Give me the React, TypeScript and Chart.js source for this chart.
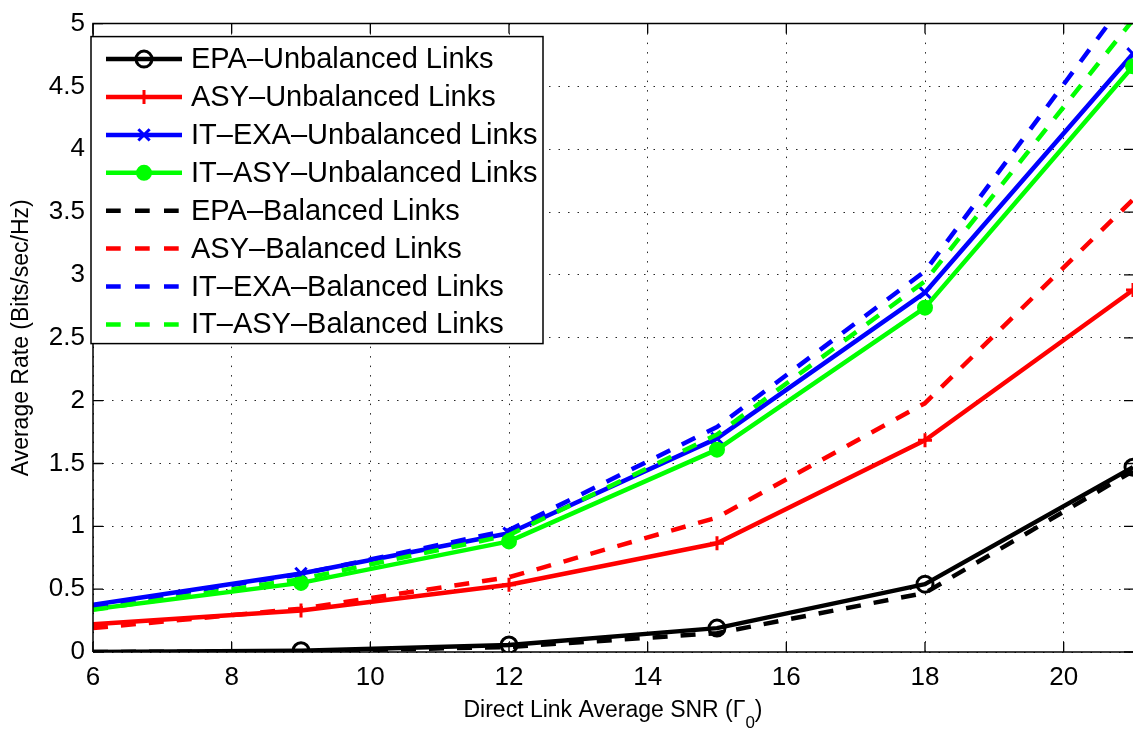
import React, { useEffect, useRef } from "react";
import { Chart, registerables } from "chart.js";

Chart.register(...registerables);

// ---------- data ----------
const xValues = [6, 9, 12, 15, 18, 21];

const epaUnbalanced = [0.0, 0.01, 0.055, 0.19, 0.54, 1.47];
const asyUnbalanced = [0.22, 0.33, 0.535, 0.865, 1.685, 2.88];
const itExaUnbalanced = [0.375, 0.625, 0.945, 1.7, 2.86, 4.76];
const itAsyUnbalanced = [0.34, 0.55, 0.88, 1.61, 2.74, 4.66];
const epaBalanced = [0.0, 0.005, 0.04, 0.15, 0.47, 1.44];
const asyBalanced = [0.19, 0.345, 0.595, 1.07, 1.98, 3.6];
const itExaBalanced = [0.36, 0.62, 0.97, 1.79, 3.03, 5.26];
const itAsyBalanced = [0.335, 0.58, 0.93, 1.73, 2.95, 5.03];

const seriesLabels = [
  "EPA\u2013Unbalanced Links",
  "ASY\u2013Unbalanced Links",
  "IT\u2013EXA\u2013Unbalanced Links",
  "IT\u2013ASY\u2013Unbalanced Links",
  "EPA\u2013Balanced Links",
  "ASY\u2013Balanced Links",
  "IT\u2013EXA\u2013Balanced Links",
  "IT\u2013ASY\u2013Balanced Links",
];
const seriesValues = [
  epaUnbalanced,
  asyUnbalanced,
  itExaUnbalanced,
  itAsyUnbalanced,
  epaBalanced,
  asyBalanced,
  itExaBalanced,
  itAsyBalanced,
];

const xTicks = [6, 8, 10, 12, 14, 16, 18, 20];
const yTicks = [0, 0.5, 1, 1.5, 2, 2.5, 3, 3.5, 4, 4.5, 5];

const xTitleMain = "Direct Link Average SNR (\u0393";
const xTitleSub = "0";
const xTitleEnd = ")";
const yTitle = "Average Rate (Bits/sec/Hz)";

// ---------- styles ----------
const FONT = '"Liberation Sans", Arial, Helvetica, sans-serif';
const seriesColors = ["#000000", "#ff0000", "#0000ff", "#00ff00"];
const markerStyles = ["circle", "cross", "crossRot", "dot"];
const markerRadius = [8, 7, 8, 6.5];
const LINE_W = 4.5;
const DASH = [15, 13];

function drawMarker(ctx: CanvasRenderingContext2D, style: string, x: number, y: number, r: number, color: string) {
  ctx.save();
  ctx.setLineDash([]);
  ctx.strokeStyle = color;
  ctx.fillStyle = color;
  ctx.lineWidth = 3;
  ctx.beginPath();
  if (style === "circle") {
    ctx.arc(x, y, r, 0, Math.PI * 2);
    ctx.stroke();
  } else if (style === "dot") {
    ctx.arc(x, y, r, 0, Math.PI * 2);
    ctx.fill();
    ctx.stroke();
  } else if (style === "cross") {
    ctx.moveTo(x - r, y);
    ctx.lineTo(x + r, y);
    ctx.moveTo(x, y - r);
    ctx.lineTo(x, y + r);
    ctx.stroke();
  } else if (style === "crossRot") {
    const d = r * Math.SQRT1_2;
    ctx.moveTo(x - d, y - d);
    ctx.lineTo(x + d, y + d);
    ctx.moveTo(x + d, y - d);
    ctx.lineTo(x - d, y + d);
    ctx.stroke();
  }
  ctx.restore();
}

const matlabPlugin = {
  id: "matlabDecor",
  afterDatasetsDraw(chart: any) {
    const { ctx, chartArea: a, scales } = chart;
    const xs = scales.x;
    const ys = scales.y;
    ctx.save();
    ctx.setLineDash([]);
    ctx.strokeStyle = "#000";
    ctx.lineWidth = 1.5;
    ctx.beginPath();
    ctx.moveTo(a.left, a.bottom);
    ctx.lineTo(a.left, a.top);
    ctx.lineTo(a.right + 2, a.top);
    ctx.moveTo(a.left, a.bottom);
    ctx.lineTo(a.right + 2, a.bottom);
    ctx.stroke();
    const L = 10;
    ctx.lineWidth = 1.3;
    ctx.beginPath();
    xTicks.forEach((v) => {
      const px = xs.getPixelForValue(v);
      ctx.moveTo(px, a.bottom);
      ctx.lineTo(px, a.bottom - L);
      ctx.moveTo(px, a.top);
      ctx.lineTo(px, a.top + L);
    });
    yTicks.forEach((v) => {
      const py = ys.getPixelForValue(v);
      ctx.moveTo(a.left, py);
      ctx.lineTo(a.left + L, py);
      ctx.moveTo(a.right + 1, py);
      ctx.lineTo(a.right + 1 - L, py);
    });
    ctx.stroke();
    ctx.restore();
  },
  afterDraw(chart: any) {
    const { ctx, chartArea: a } = chart;
    // legend
    ctx.save();
    const bx = a.left - 2;
    const by = a.top + 13;
    const bw = 452;
    const bh = 307;
    ctx.fillStyle = "#ffffff";
    ctx.fillRect(bx, by, bw, bh);
    ctx.setLineDash([]);
    ctx.strokeStyle = "#000";
    ctx.lineWidth = 1.5;
    ctx.strokeRect(bx, by, bw, bh);
    const rowStep = 37.9;
    const row0 = by + 22.5;
    chart.data.datasets.forEach((ds: any, i: number) => {
      const y = row0 + i * rowStep;
      ctx.save();
      ctx.strokeStyle = ds.borderColor;
      ctx.lineWidth = LINE_W;
      ctx.lineCap = "butt";
      ctx.setLineDash(i >= 4 ? [14.7, 14.3] : []);
      ctx.beginPath();
      ctx.moveTo(bx + 15, y);
      ctx.lineTo(bx + 91, y);
      ctx.stroke();
      ctx.restore();
      if (i < 4) drawMarker(ctx, markerStyles[i], bx + 53, y, markerRadius[i], seriesColors[i]);
      ctx.fillStyle = "#000";
      ctx.font = `29px ${FONT}`;
      ctx.textBaseline = "middle";
      ctx.textAlign = "left";
      ctx.fillText(ds.label, bx + 100, y + 1);
    });
    ctx.restore();

    // x title with subscript
    ctx.save();
    ctx.fillStyle = "#000";
    ctx.textBaseline = "alphabetic";
    ctx.textAlign = "left";
    const mainFont = `23px ${FONT}`;
    const subFont = `17px ${FONT}`;
    ctx.font = mainFont;
    const w1 = ctx.measureText(xTitleMain).width;
    const w3 = ctx.measureText(xTitleEnd).width;
    ctx.font = subFont;
    const w2 = ctx.measureText(xTitleSub).width;
    const total = w1 + w2 + w3;
    const cx = (a.left + a.right) / 2;
    let x = cx - total / 2;
    const base = 717;
    ctx.font = mainFont;
    ctx.fillText(xTitleMain, x, base);
    x += w1;
    ctx.font = subFont;
    ctx.fillText(xTitleSub, x, base + 11);
    x += w2;
    ctx.font = mainFont;
    ctx.fillText(xTitleEnd, x, base);
    ctx.restore();
  },
};

export default function App() {
  const canvasRef = useRef<HTMLCanvasElement | null>(null);

  useEffect(() => {
    const canvas = canvasRef.current;
    if (!canvas) return;

    const datasets = seriesValues.map((vals, i) => {
      const solid = i < 4;
      const color = seriesColors[i % 4];
      return {
        label: seriesLabels[i],
        data: xValues.map((x, j) => ({ x, y: vals[j] })),
        borderColor: color,
        backgroundColor: color,
        borderWidth: LINE_W,
        borderDash: solid ? [] : DASH,
        borderCapStyle: "butt",
        borderJoinStyle: "round",
        pointStyle: solid ? (markerStyles[i] === "dot" ? "circle" : markerStyles[i]) : false,
        pointRadius: solid ? xValues.map((_, j) => (j === 0 ? 0 : markerRadius[i])) : 0,
        pointBorderWidth: 3,
        pointBorderColor: color,
        pointBackgroundColor: i === 3 ? color : "rgba(0,0,0,0)",
        pointHoverRadius: 0,
        tension: 0,
        fill: false,
        order: 8 - i,
      };
    });

    const tickFont = { family: FONT, size: 26 };

    const chart = new Chart(canvas, {
      type: "line",
      data: { datasets } as any,
      options: {
        animation: false,
        responsive: false,
        events: [],
        layout: { autoPadding: false, padding: { top: 17, right: 0, bottom: 0, left: 0 } },
        plugins: {
          legend: { display: false },
          tooltip: { enabled: false },
        },
        scales: {
          x: {
            type: "linear",
            min: 6,
            max: 21,
            afterBuildTicks: (scale: any) => {
              scale.ticks = xTicks.map((v) => ({ value: v }));
            },
            afterFit: (scale: any) => {
              scale.height = 77;
              scale.paddingRight = 0;
              scale.paddingLeft = 0;
            },
            ticks: {
              color: "#000",
              font: tickFont,
              padding: 10,
              maxRotation: 0,
              autoSkip: false,
              callback: (v: any) => String(v),
            },
            grid: { color: "rgba(0,0,0,0.85)", lineWidth: 1, drawTicks: false },
            border: { display: false, dash: [1.5, 8] },
          },
          y: {
            type: "linear",
            min: 0,
            max: 5,
            afterBuildTicks: (scale: any) => {
              scale.ticks = yTicks.map((v) => ({ value: v }));
            },
            afterFit: (scale: any) => {
              scale.width = 93;
            },
            ticks: {
              color: "#000",
              font: tickFont,
              padding: 8,
              autoSkip: false,
              callback: (v: any) => String(v),
            },
            grid: { color: "rgba(0,0,0,0.85)", lineWidth: 1, drawTicks: false },
            border: { display: false, dash: [1.5, 8] },
            title: {
              display: true,
              text: yTitle,
              color: "#000",
              font: { family: FONT, size: 23 },
              padding: { top: 8, bottom: 0 },
            },
          },
        },
      } as any,
      plugins: [matlabPlugin],
    });

    return () => chart.destroy();
  }, []);

  return (
    <div style={{ position: "fixed", left: 0, top: 0, width: 1133, height: 729, background: "#fff" }}>
      <canvas ref={canvasRef} width={1133} height={729} style={{ display: "block" }} />
    </div>
  );
}
